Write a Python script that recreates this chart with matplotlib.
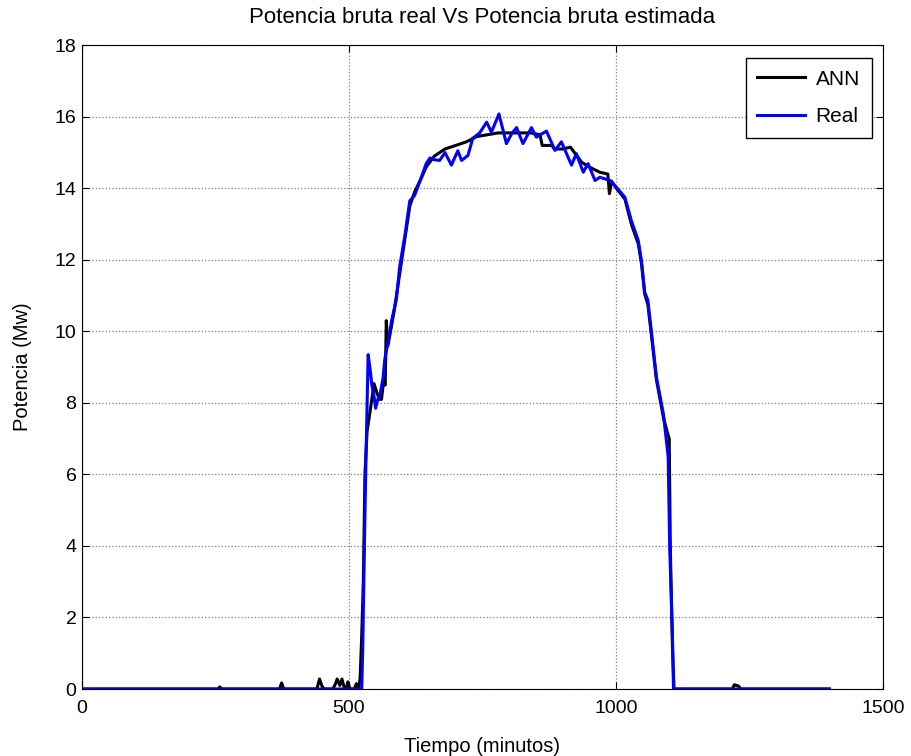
import matplotlib
matplotlib.use("Agg")
import matplotlib.pyplot as plt

plt.rcParams['font.family'] = ['Liberation Sans', 'DejaVu Sans']

# Real power (blue)
real_t = [0, 524, 526, 529, 532, 536, 540, 543, 547, 550, 554, 558, 564, 567, 574, 580, 589,
          595, 605, 614, 623, 633, 645, 652, 660, 670, 680, 692, 704, 711, 723, 732, 745, 758,
          767, 781, 795, 805, 814, 826, 842, 851, 870, 886, 898, 917, 926, 939, 948, 961, 970,
          989, 1001, 1017, 1029, 1042, 1048, 1054, 1060, 1067, 1076, 1089, 1098, 1101, 1106,
          1108, 1400]
real_p = [0.0, 0.0, 1.2, 4.0, 6.5, 9.35, 8.9, 8.5, 8.2, 7.85, 8.1, 8.2, 8.7, 9.2, 9.75, 10.3, 10.9,
          11.8, 12.7, 13.65, 13.8, 14.2, 14.7, 14.85, 14.8, 14.78, 15.0, 14.65, 15.05, 14.78, 14.92,
          15.4, 15.55, 15.85, 15.57, 16.08, 15.25, 15.53, 15.7, 15.25, 15.7, 15.43, 15.6, 15.06,
          15.3, 14.65, 14.97, 14.45, 14.69, 14.22, 14.31, 14.22, 14.03, 13.75, 13.1, 12.54, 11.98,
          11.1, 10.87, 9.94, 8.72, 7.7, 6.5, 3.9, 1.5, 0.0, 0.0]

# ANN estimated power (black)
ann_t = [0, 255, 258, 262, 370, 374, 378, 440, 445, 449, 453, 470, 475, 478, 483, 487, 491,
         495, 498, 502, 510, 514, 518, 521, 524, 527, 530, 534, 538, 542, 547, 552, 557, 561,
         565, 568, 570, 573, 578, 585, 595, 605, 614, 623, 633, 645, 660, 680, 700, 720, 740,
         760, 780, 800, 820, 840, 858, 862, 880, 885, 900, 915, 936, 951, 970, 985, 988, 992,
         1001, 1017, 1029, 1042, 1048, 1054, 1060, 1067, 1076, 1089, 1096, 1100, 1102, 1106, 1109,
         1218, 1222, 1230, 1234, 1400]
ann_p = [0.0, 0.0, 0.06, 0.0, 0.0, 0.17, 0.0, 0.0, 0.28, 0.1, 0.0, 0.0, 0.15, 0.28, 0.1, 0.28, 0.05,
         0.0, 0.2, 0.0, 0.0, 0.15, 0.0, 0.3, 1.5, 3.0, 6.0, 7.2, 7.6, 8.0, 8.54, 8.3, 8.1, 8.1,
         8.6, 8.5, 10.3, 9.6, 10.0, 10.6, 11.6, 12.6, 13.5, 13.9, 14.2, 14.6, 14.9, 15.1, 15.2,
         15.3, 15.45, 15.5, 15.55, 15.55, 15.55, 15.55, 15.5, 15.2, 15.2, 15.1, 15.1, 15.15, 14.73,
         14.59, 14.45, 14.4, 13.85, 14.2, 14.0, 13.7, 13.0, 12.45, 11.9, 11.05, 10.75, 9.85, 8.65,
         7.6, 7.2, 7.0, 4.0, 1.2, 0.0, 0.0, 0.12, 0.08, 0.0, 0.0]

title = 'Potencia bruta real Vs Potencia bruta estimada'
xlabel = 'Tiempo (minutos)'
ylabel = 'Potencia (Mw)'
x_ticks = [0, 500, 1000, 1500]
y_ticks = list(range(0, 19, 2))

fig = plt.figure(figsize=(9.11, 7.56), dpi=100)
ax = fig.add_axes([0.090, 0.0886, 0.879, 0.8515])

ax.plot(ann_t, ann_p, color='black', lw=2.2, label='ANN')
ax.plot(real_t, real_p, color='#0000ff', lw=2.2, label='Real')

ax.set_xlim(0, 1500)
ax.set_ylim(0, 18)
ax.set_xticks(x_ticks)
ax.set_yticks(y_ticks)
ax.tick_params(direction='in', top=True, right=True, labelsize=14, length=5, pad=4)
ax.tick_params(axis='x', pad=8)
ax.grid(True, color='#808080', linestyle=':', linewidth=0.9)
for s in ax.spines.values():
    s.set_linewidth(0.8)

ax.set_title(title, fontsize=16, pad=16)
ax.set_xlabel(xlabel, fontsize=14.5, labelpad=14)
ax.set_ylabel(ylabel, fontsize=14.5, labelpad=16)

leg = ax.legend(loc='upper right', bbox_to_anchor=(0.986, 0.980), fontsize=15,
                fancybox=False, edgecolor='black', framealpha=1, handlelength=2.3,
                handletextpad=0.5, borderaxespad=0, labelspacing=0.9, borderpad=0.55)
leg.get_frame().set_linewidth(1.0)

fig.savefig('out.png', dpi=100)
